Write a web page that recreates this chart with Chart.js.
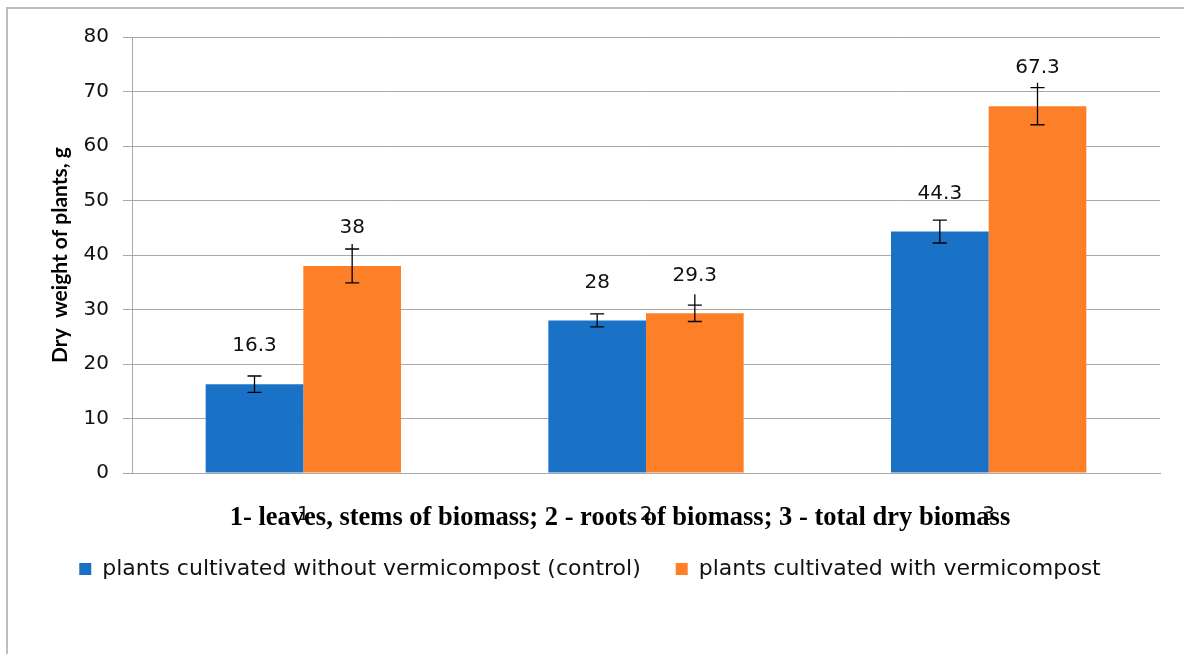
<!DOCTYPE html>
<html>
<head>
<meta charset="utf-8">
<script src="https://cdn.jsdelivr.net/npm/chart.js@4"></script>
<style>
  html, body { margin: 0; padding: 0; background: #fff; overflow: hidden; }
  #wrap { position: absolute; left: 0; top: 0; width: 1184px; height: 654px; }
  #frame { position: absolute; left: 6px; top: 7px; width: 1300px; height: 800px;
    border-left: 2px solid #bdbdbd; border-top: 2px solid #bdbdbd; pointer-events: none; }
</style>
</head>
<body>
<div id="wrap"><canvas id="chart"></canvas></div>
<div id="frame"></div>
<script>
const categories = ['1', '2', '3']
const controlValues = [16.3, 28, 44.3]
const vermiValues = [38, 29.3, 67.3]
const controlErrors = [1.5, 1.2, 2.1]
const vermiErrors = [3.1, 1.5, 3.4]
// the whisker stems of the second series run a bit past the cap
const vermiStemTop = [42, 32.8, 71.6]
const yTicks = [0, 10, 20, 30, 40, 50, 60, 70, 80]
const xTitle = '1- leaves, stems of biomass; 2 - roots of biomass; 3 - total dry biomass'

const FONT = 'DejaVu Sans'
const errors = [controlErrors, vermiErrors]
const stemTops = [null, vermiStemTop]

const errorBars = {
  id: 'errorBars',
  afterDatasetsDraw(chart) {
    const ctx = chart.ctx
    const y = chart.scales.y
    ctx.save()
    ctx.strokeStyle = '#000'
    ctx.lineWidth = 1.3
    chart.data.datasets.forEach((ds, i) => {
      const meta = chart.getDatasetMeta(i)
      meta.data.forEach((bar, j) => {
        const v = ds.data[j]
        const e = errors[i][j]
        const hi = y.getPixelForValue(v + e)
        const lo = y.getPixelForValue(v - e)
        const top = stemTops[i] ? y.getPixelForValue(stemTops[i][j]) : hi
        ctx.beginPath()
        ctx.moveTo(bar.x, top)
        ctx.lineTo(bar.x, lo)
        ctx.moveTo(bar.x - 7, hi)
        ctx.lineTo(bar.x + 7, hi)
        ctx.moveTo(bar.x - 7, lo)
        ctx.lineTo(bar.x + 7, lo)
        ctx.stroke()
      })
    })
    ctx.restore()
  }
}

const valueLabels = {
  id: 'valueLabels',
  afterDatasetsDraw(chart) {
    const ctx = chart.ctx
    ctx.save()
    ctx.font = '20px ' + FONT
    ctx.fillStyle = '#111'
    ctx.textAlign = 'center'
    ctx.textBaseline = 'middle'
    chart.data.datasets.forEach((ds, i) => {
      chart.getDatasetMeta(i).data.forEach((bar, j) => {
        ctx.fillText(String(ds.data[j]), bar.x, bar.y - 38)
      })
    })
    ctx.restore()
  }
}

// the axis title sits a little left of the plot centre, so it is drawn here
const axisTitle = {
  id: 'axisTitle',
  afterDraw(chart) {
    const { ctx, chartArea } = chart
    ctx.save()
    ctx.font = 'bold 26.5px "Liberation Serif"'
    ctx.fillStyle = '#000'
    ctx.textAlign = 'center'
    ctx.textBaseline = 'middle'
    ctx.fillText(xTitle, (chartArea.left + chartArea.right) / 2 - 26, chartArea.bottom + 45)
    ctx.restore()
  }
}

const ctx = document.getElementById('chart').getContext('2d')
new Chart(ctx, {
  type: 'bar',
  data: {
    labels: categories,
    datasets: [{
      label: 'plants cultivated without vermicompost (control)',
      data: controlValues,
      backgroundColor: '#1a72c7',
      borderWidth: 0
    }, {
      label: 'plants cultivated with vermicompost',
      data: vermiValues,
      backgroundColor: '#fd7f27',
      borderWidth: 0
    }]
  },
  options: {
    responsive: true,
    maintainAspectRatio: false,
    animation: false,
    categoryPercentage: 0.57,
    barPercentage: 1,
    layout: { padding: { top: 37, right: 24, left: 20, bottom: 64 } },
    scales: {
      x: {
        grid: { display: false },
        border: { display: true, color: '#a8a8a8', width: 1 },
        ticks: { color: '#111', font: { family: FONT, size: 20 }, padding: 22 },
        afterFit: (scale) => { scale.height = 50 }
      },
      y: {
        min: 0,
        max: 80,
        afterBuildTicks: (scale) => { scale.ticks = yTicks.map(v => ({ value: v })) },
        grid: { color: '#a8a8a8', lineWidth: 1, tickLength: 9 },
        border: { display: true, color: '#a8a8a8', width: 1 },
        ticks: { color: '#111', font: { family: FONT, size: 20 }, padding: 14 },
        title: {
          display: true,
          text: 'Dry  weight of plants, g',
          color: '#000',
          font: { family: 'Lato', size: 21, weight: 'bold' },
          padding: { top: 28, bottom: 0 }
        },
        afterFit: (scale) => { scale.width = 112 }
      }
    },
    plugins: {
      legend: {
        position: 'bottom',
        labels: {
          color: '#111',
          font: { family: FONT, size: 22 },
          boxWidth: 12,
          boxHeight: 12,
          padding: 35
        }
      },
      tooltip: { enabled: false }
    }
  },
  plugins: [errorBars, valueLabels, axisTitle]
})
</script>
</body>
</html>
